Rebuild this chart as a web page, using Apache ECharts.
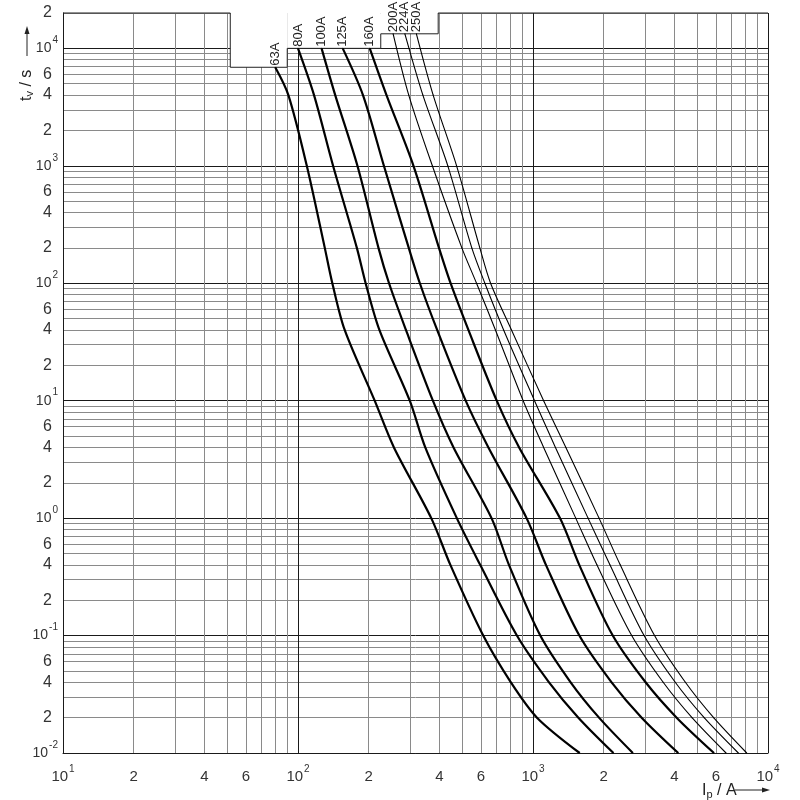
<!DOCTYPE html>
<html>
<head>
<meta charset="utf-8">
<script src="https://cdn.jsdelivr.net/npm/echarts@6/dist/echarts.min.js"></script>
<style>
html, body { margin: 0; padding: 0; background: #fff; }
#chart { width: 800px; height: 800px; }
</style>
</head>
<body>
<div id="chart"></div>
<script>
// fuse ratings and their melting curves (current in A, time in s)
var ratings = ['63A', '80A', '100A', '125A', '160A', '200A', '224A', '250A'];
var thick = [true, true, true, true, true, false, false, false];
var startTimes = [6900, 10000, 10000, 10000, 10000, 13300, 13300, 13300];
var times = [4000, 1000, 200, 100, 40, 10, 4, 1, 0.4, 0.1, 0.04, 0.02, 0.01];

var i63 = [80, 91, 109, 130, 140, 158, 212, 256, 369, 445, 614, 805, 1040, 1580];
var i80 = [100, 117, 141, 178, 194, 222, 299, 348, 474, 596, 854, 1170, 1560, 2200];
var i100 = [126, 144, 179, 220, 244, 288, 375, 459, 666, 790, 1074, 1446, 1910, 2660];
var i125 = [155, 189, 232, 296, 330, 391, 517, 646, 939, 1135, 1575, 2160, 2900, 4150];
var i160 = [202, 238, 310, 398, 446, 531, 701, 873, 1302, 1573, 2185, 3014, 4086, 5890];
var i200 = [254, 296, 373, 498, 575, 692, 908, 1110, 1520, 1870, 2630, 3580, 4750, 6630];
var i224 = [285, 340, 434, 549, 624, 750, 1015, 1246, 1715, 2125, 2970, 4030, 5350, 7480];
var i250 = [319, 376, 473, 594, 660, 810, 1110, 1380, 1910, 2350, 3290, 4450, 5870, 8120];
var currents = [i63, i80, i100, i125, i160, i200, i224, i250];

// stepped top edge of the grid
var gateI = [10, 51.5, 51.5, 90, 90, 225, 225, 395, 395, 10000];
var gateT = [20000, 20000, 6900, 6900, 10000, 10000, 13300, 13300, 20000, 20000];

// tick labels
var xLabels = [10, 20, 40, 60, 100, 200, 400, 600, 1000, 2000, 4000, 6000, 10000];
var yLabels = [0.01, 0.02, 0.04, 0.06, 0.1, 0.2, 0.4, 0.6, 1, 2, 4, 6, 10, 20, 40, 60,
               100, 200, 400, 600, 1000, 2000, 4000, 6000, 10000, 20000];

var FONT = '"Liberation Sans Narrow", "Liberation Sans", sans-serif';

function decadeLines(e0, e1) {
    var out = [];
    for (var e = e0; e < e1; e++) {
        for (var m = 1; m <= 9; m++) out.push(+(m * Math.pow(10, e)).toPrecision(3));
    }
    out.push(Math.pow(10, e1));
    return out;
}
var xGrid = decadeLines(1, 4);
var yGrid = decadeLines(-2, 4).concat([20000]);
var gridColors = ['#1a1a1a', '#8a8a8a', '#8a8a8a', '#8a8a8a', '#8a8a8a', '#8a8a8a', '#8a8a8a', '#8a8a8a', '#8a8a8a'];

function fmtLabel(v) {
    var e = Math.floor(Math.log10(v) + 1e-9);
    var m = Math.round(v / Math.pow(10, e));
    return m === 1 ? '{p|10}{e|' + e + '}' : '{m|' + m + '}';
}

var chart = echarts.init(document.getElementById('chart'));

var series = ratings.map(function (name, k) {
    var data = currents[k].map(function (I, j) {
        return [I, j === 0 ? startTimes[k] : times[j - 1]];
    });
    data[0] = {
        value: data[0],
        label: {
            show: true, formatter: name, position: 'top', distance: 1,
            rotate: 90, align: 'left', verticalAlign: 'middle',
            fontFamily: '"Liberation Sans", sans-serif', fontSize: 13, color: '#222'
        }
    };
    return {
        type: 'line', name: name, data: data, smooth: 0.3,
        showSymbol: true, symbol: 'circle', symbolSize: 1,
        itemStyle: { color: '#000' },
        lineStyle: { color: '#000', width: thick[k] ? 2.2 : 1.1 },
        z: 3, silent: true
    };
});

series.push({
    type: 'line', name: 'gate', clip: false, symbol: 'none', silent: true, z: 2,
    data: gateI.map(function (v, i) { return [v, gateT[i]]; }),
    lineStyle: { color: '#222', width: 1 },
    markArea: {
        silent: true,
        itemStyle: { color: '#fff' },
        data: [
            [{ coord: [gateI[1], gateT[2]] }, { coord: [gateI[3], 20000] }],
            [{ coord: [gateI[4], gateT[4]] }, { coord: [gateI[5], 20000] }],
            [{ coord: [gateI[6], gateT[6]] }, { coord: [gateI[7], 20000] }]
        ]
    }
});

var option = {
    backgroundColor: '#fff',
    animation: false,
    grid: { left: 63, right: 32, top: 13, bottom: 47, outerBoundsMode: 'none' },
    xAxis: {
        type: 'log', logBase: 10, min: 10, max: 10000,
        axisLine: { show: true, lineStyle: { color: '#1a1a1a', width: 1 } },
        axisTick: { show: false, customValues: xGrid },
        axisLabel: {
            customValues: xLabels, formatter: fmtLabel, margin: 11, color: '#333',
            rich: {
                p: { fontSize: 15, lineHeight: 26, fontFamily: FONT },
                m: { fontSize: 15, lineHeight: 26, fontFamily: FONT },
                e: { fontSize: 10, lineHeight: 10, verticalAlign: 'top', fontFamily: FONT, padding: [0, 0, 0, 1] }
            }
        },
        splitLine: { show: true, lineStyle: { color: gridColors, width: 1 } }
    },
    yAxis: {
        type: 'log', logBase: 10, min: 0.01, max: 20000,
        axisLine: { show: true, lineStyle: { color: '#1a1a1a', width: 1 } },
        axisTick: { show: false, customValues: yGrid },
        axisLabel: {
            customValues: yLabels, formatter: fmtLabel, margin: 5, color: '#333',
            rich: {
                p: { fontSize: 14, lineHeight: 26, fontFamily: FONT },
                m: { fontSize: 16, lineHeight: 26, fontFamily: FONT, padding: [0, 6, 0, 0] },
                e: { fontSize: 10, lineHeight: 10, verticalAlign: 'top', fontFamily: FONT, padding: [0, 0, 0, 1] }
            }
        },
        splitLine: { show: true, lineStyle: { color: gridColors, width: 1 } }
    },
    graphic: [
        {
            type: 'text', x: 27, y: 101, rotation: Math.PI / 2,
            style: {
                text: '{a|t}{b|v}{a| / s}', align: 'left', verticalAlign: 'middle', fill: '#222',
                rich: {
                    a: { fontSize: 16, fontFamily: FONT, fill: '#222' },
                    b: { fontSize: 11, fontFamily: FONT, fill: '#222', padding: [6, 0, 0, 0] }
                }
            }
        },
        { type: 'line', shape: { x1: 27, y1: 56, x2: 27, y2: 32 }, style: { stroke: '#222', lineWidth: 1 } },
        { type: 'polygon', shape: { points: [[27, 26], [24.5, 34], [29.5, 34]] }, style: { fill: '#222' } },
        {
            type: 'text', x: 702, y: 791,
            style: {
                text: '{a|I}{b|p}{a| / A}', align: 'left', verticalAlign: 'middle', fill: '#222',
                rich: {
                    a: { fontSize: 16, fontFamily: FONT, fill: '#222' },
                    b: { fontSize: 11, fontFamily: FONT, fill: '#222', padding: [8, 0, 0, 0] }
                }
            }
        },
        { type: 'line', shape: { x1: 735, y1: 790, x2: 763, y2: 790 }, style: { stroke: '#222', lineWidth: 1 } },
        { type: 'polygon', shape: { points: [[770, 790], [762, 787.5], [762, 792.5]] }, style: { fill: '#222' } }
    ],
    series: series
};

chart.setOption(option);
</script>
</body>
</html>
